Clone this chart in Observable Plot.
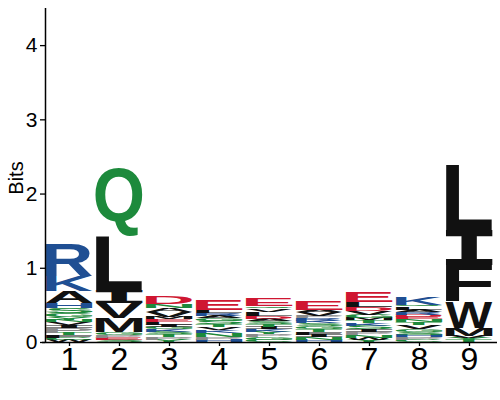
<!DOCTYPE html>
<html><head><meta charset="utf-8">
<script src="https://cdn.jsdelivr.net/npm/d3@7"></script>
<script src="https://cdn.jsdelivr.net/npm/@observablehq/plot@0.6"></script>
<style>body{margin:0;background:#fff;font-family:"Liberation Sans",Arial,Helvetica,sans-serif}</style>
</head><body><div id="chart"></div>
<script>
// Sequence logo data: letters stacked bottom -> top, heights in bits
const positions = [1, 2, 3, 4, 5, 6, 7, 8, 9];
const pos1 = [["W",0.03],["C",0.025],["F",0.035],["T",0.03],["P",0.067],["I",0.04],["V",0.04],["N",0.035],["Y",0.032],["G",0.05],["S",0.07],["H",0.067],["A",0.16],["K",0.215],["R",0.43]];
const pos2 = [["S",0.03],["E",0.03],["P",0.04],["G",0.035],["M",0.19],["V",0.2],["I",0.175],["L",0.73],["Q",0.93]];
const pos3 = [["Y",0.03],["P",0.04],["T",0.035],["S",0.035],["K",0.03],["G",0.03],["I",0.03],["L",0.04],["E",0.04],["M",0.03],["V",0.065],["A",0.055],["N",0.05],["D",0.11]];
const pos4 = [["H",0.03],["P",0.04],["N",0.05],["K",0.04],["V",0.04],["T",0.04],["S",0.045],["G",0.04],["A",0.03],["R",0.04],["L",0.03],["E",0.13]];
const pos5 = [["C",0.03],["G",0.035],["P",0.04],["Y",0.03],["K",0.04],["I",0.03],["T",0.04],["S",0.04],["A",0.03],["D",0.04],["L",0.055],["V",0.04],["Q",0.03],["E",0.1]];
const pos6 = [["H",0.03],["N",0.035],["I",0.035],["F",0.035],["T",0.04],["G",0.04],["S",0.035],["K",0.03],["R",0.04],["P",0.03],["V",0.05],["A",0.03],["E",0.12]];
const pos7 = [["Y",0.03],["W",0.03],["N",0.04],["P",0.04],["I",0.035],["S",0.045],["K",0.03],["T",0.04],["M",0.03],["G",0.05],["V",0.045],["D",0.055],["L",0.07],["E",0.135]];
const pos8 = [["C",0.03],["P",0.04],["H",0.03],["S",0.04],["G",0.035],["V",0.05],["T",0.04],["N",0.04],["E",0.03],["D",0.03],["R",0.04],["A",0.03],["L",0.04],["Q",0.03],["K",0.11]];
const pos9 = [["T",0.03],["Y",0.025],["V",0.025],["M",0.11],["W",0.35],["F",0.5],["I",0.47],["L",0.875]];
const stacks = [pos1, pos2, pos3, pos4, pos5, pos6, pos7, pos8, pos9];
const yTicks = [0, 1, 2, 3, 4];
const yLabel = "Bits";

const letterColors = {
  A:"#111111", V:"#111111", L:"#111111", I:"#111111", M:"#111111", F:"#111111", W:"#111111",
  P:"#8a8a8a",
  K:"#1f4f93", R:"#1f4f93", H:"#1f4f93",
  D:"#cf1631", E:"#cf1631",
  S:"#1d8a3c", T:"#1d8a3c", Y:"#1d8a3c", C:"#1d8a3c", N:"#1d8a3c", Q:"#1d8a3c", G:"#1d8a3c"
};

// build table (cumulative stacking)
const table = [];
positions.forEach((p, i) => {
  let acc = 0;
  for (const [letter, h] of stacks[i]) {
    table.push({pos: p, letter, y0: acc, y1: acc + h});
    acc += h;
  }
});

const cnv = document.createElement("canvas");
const c2d = cnv.getContext("2d");
const boxCache = {};
function glyphBox(letter, family) {
  const key = letter + family;
  if (boxCache[key]) return boxCache[key];
  c2d.font = `bold 100px ${family}`;
  c2d.textAlign = "left";
  c2d.textBaseline = "alphabetic";
  const m = c2d.measureText(letter);
  let b = {l: m.actualBoundingBoxLeft, r: m.actualBoundingBoxRight, a: m.actualBoundingBoxAscent, d: m.actualBoundingBoxDescent};
  if (!(b.l + b.r > 0) || !(b.a + b.d > 0)) b = {l: 0, r: 70, a: 72, d: 0};
  boxCache[key] = b;
  return b;
}

function logoMark(index, scales, values, dimensions) {
  const {x, y} = scales;
  const g = d3.create("svg:g");
  const half = 0.47;
  for (const d of table) {
    const x0 = x(d.pos - half), x1 = x(d.pos + half);
    const yt = y(d.y1), yb = y(d.y0);
    const w = x1 - x0, h = yb - yt;
    if (h <= 0) continue;
    const family = d.letter === "I" ? "'DejaVu Sans Mono'" : "'Liberation Sans', Arial";
    const b = glyphBox(d.letter, family);
    const gw = b.l + b.r, gh = b.a + b.d;
    g.append("text")
      .attr("transform", `translate(${x0},${yt}) scale(${w / gw},${h / gh})`)
      .attr("x", b.l)
      .attr("y", b.a)
      .attr("text-anchor", "start")
      .attr("font-family", family)
      .attr("font-weight", "bold")
      .attr("font-size", 100)
      .attr("fill", letterColors[d.letter] || "#111")
      .text(d.letter);
  }
  // y-axis title
  const yMid = (y(0) + y(4.5)) / 2 + 3;
  g.append("text")
    .attr("transform", `translate(${dimensions.marginLeft - 22},${yMid}) rotate(-90)`)
    .attr("text-anchor", "middle")
    .style("font-size", "20px")
    .style("font-family", "'Liberation Sans', Arial, sans-serif")
    .attr("fill", "#000")
    .text(yLabel);
  return g.node();
}

const chart = Plot.plot({
  width: 500,
  height: 400,
  marginLeft: 45,
  marginRight: 3,
  marginTop: 8,
  marginBottom: 58,
  style: {fontFamily: "'Liberation Sans', Arial, Helvetica, sans-serif", background: "#fff"},
  x: {domain: [0.52, 9.56], axis: null},
  y: {domain: [0, 4.5], axis: null},
  marks: [
    logoMark,
    Plot.axisY({ticks: yTicks, tickSize: 5, tickPadding: 3, fontSize: 21, label: null, stroke: "#000", strokeWidth: 1.3, color: "#000", tickFormat: d => String(d)}),
    Plot.axisX({ticks: positions, tickSize: 4, tickPadding: 1, fontSize: 32, label: null, stroke: "#000", strokeWidth: 1.3, color: "#000", tickFormat: d => String(d)}),
    Plot.ruleX([0.52], {stroke: "#000", strokeWidth: 1.5}),
    Plot.ruleY([0], {x1: 0.46, x2: 9.56, stroke: "#000", strokeWidth: 1.5})
  ]
});
document.getElementById("chart").appendChild(chart);
</script>
</body></html>
